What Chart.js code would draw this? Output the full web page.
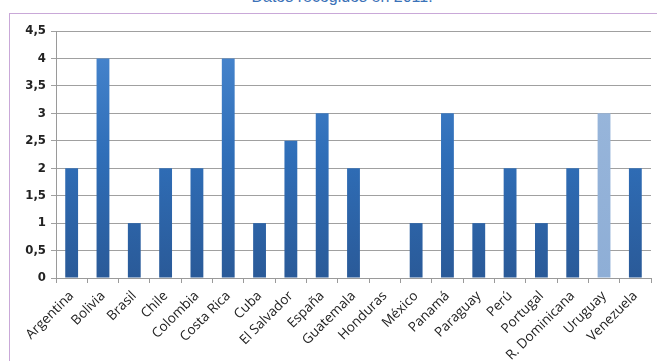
<!DOCTYPE html>
<html>
<head>
<meta charset="utf-8">
<script src="https://cdn.jsdelivr.net/npm/chart.js@4"></script>
<style>
    html, body { margin: 0; padding: 0; background: #fff; overflow: hidden; }
    #wrap { position: relative; width: 657px; height: 361px; }
    #title { position: absolute; left: 0; width: 684px; top: -12px; text-align: center;
             font: 16px "Liberation Sans", Arial, sans-serif; color: #3b72b8; }
    #frame { position: absolute; left: 9px; top: 13px; width: 700px; height: 400px;
             border: 1px solid #c9a8d8; box-sizing: border-box; }
    canvas { position: absolute; left: 0; top: 0; }
</style>
</head>
<body>
<div id="wrap">
    <div id="title">Datos recogidos en 2011.</div>
    <div id="frame"></div>
    <canvas id="chart" width="657" height="361"></canvas>
</div>
<script>
const countries = ['Argentina', 'Bolivia', 'Brasil', 'Chile', 'Colombia', 'Costa Rica', 'Cuba',
    'El Salvador', 'España', 'Guatemala', 'Honduras', 'México', 'Panamá', 'Paraguay', 'Perú',
    'Portugal', 'R. Dominicana', 'Uruguay', 'Venezuela'];
const values = [2, 4, 1, 2, 2, 4, 1, 2.5, 3, 2, 0, 1, 3, 1, 2, 1, 2, 3, 2];
const highlighted = ['Uruguay'];

function barFill(context) {
    const chart = context.chart;
    const area = chart.chartArea;
    if (!area) return '#2e6db5';
    const ctx = chart.ctx;
    if (highlighted.includes(countries[context.dataIndex])) {
        const g = ctx.createLinearGradient(0, area.top, 0, area.bottom);
        g.addColorStop(0, '#9bb8dc');
        g.addColorStop(1, '#8eaed6');
        return g;
    }
    const g = ctx.createLinearGradient(0, area.top, 0, area.bottom);
    g.addColorStop(0, '#4a88d0');
    g.addColorStop(0.5, '#2f6eb8');
    g.addColorStop(1, '#2a5a98');
    return g;
}

new Chart(document.getElementById('chart').getContext('2d'), {
    type: 'bar',
    data: {
        labels: countries,
        datasets: [{
            data: values,
            backgroundColor: barFill,
            borderWidth: 0,
            barPercentage: 0.41,
            categoryPercentage: 1
        }]
    },
    options: {
        responsive: false,
        animation: false,
        layout: { padding: { left: 0, right: 6, top: 31, bottom: 0 } },
        plugins: { legend: { display: false }, tooltip: { enabled: false } },
        scales: {
            x: {
                afterFit: scale => { scale.height = 83; },
                grid: { display: true, drawOnChartArea: false, drawTicks: true, tickLength: 5,
                        color: '#9a9a9a', offset: true },
                border: { color: '#9a9a9a' },
                ticks: {
                    maxRotation: 45, minRotation: 45, autoSkip: false, padding: 5,
                    color: '#222',
                    font: { family: '"Open Sans", sans-serif', size: 13.5 }
                }
            },
            y: {
                min: 0, max: 4.5,
                afterFit: scale => { scale.width = 56; },
                grid: { color: '#a0a0a0', tickLength: 5 },
                border: { color: '#9a9a9a' },
                ticks: {
                    stepSize: 0.5, padding: 5, color: '#222',
                    font: { family: '"Liberation Sans Narrow", "DejaVu Sans Condensed", sans-serif',
                            size: 13, weight: 'bold' },
                    callback: v => String(v).replace('.', ',')
                }
            }
        }
    }
});
</script>
</body>
</html>
